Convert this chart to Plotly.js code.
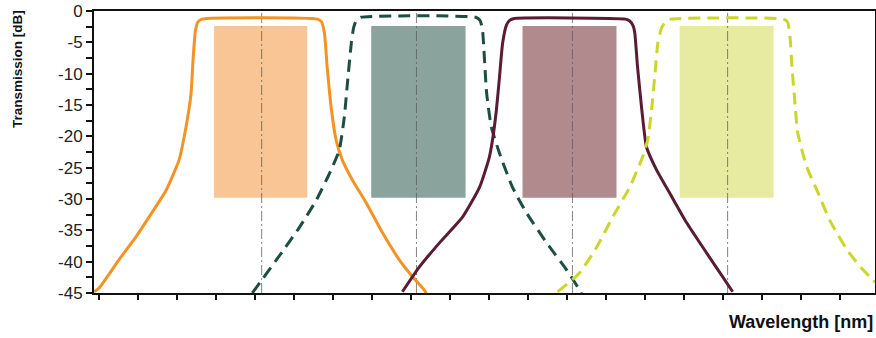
<!DOCTYPE html>
<html>
<head>
<meta charset="utf-8">
<script src="https://cdn.plot.ly/plotly-3.0.1.min.js"></script>
<style>html,body{margin:0;padding:0;background:#fff;}#chart{width:876px;height:338px;}</style>
</head>
<body>
<div id="chart"></div>
<script>
// Wavelength axis in tick units (ticks carry no labels in the source)
const xTicks = [0,1,2,3,4,5,6,7,8,9,10,11,12,13,14,15,16,17,18,19];
const yTicks = [0,-5,-10,-15,-20,-25,-30,-35,-40,-45];

// Channel 1 (orange, solid)
const ch1X = [-0.13,0,0.51,0.95,1.28,1.72,2.05,2.23,2.36,2.41,2.47,2.53,2.64,5.60,5.70,5.78,5.85,5.96,6.08,6.24,6.50,6.85,7.27,7.70,8.04,8.34,8.40];
const ch1Y = [-44.8,-44.2,-39.7,-36.0,-32.9,-28.6,-23.8,-18.5,-13.1,-7.8,-3.2,-1.8,-1.3,-1.3,-1.7,-3.5,-8.9,-15.8,-20.6,-23.8,-27,-30.6,-35.4,-39.7,-42.4,-44.5,-45.2];
// Channel 2 (dark green, dashed)
const ch2X = [3.93,4.70,5.13,5.57,5.91,6.16,6.29,6.37,6.47,6.53,6.60,6.72,9.66,9.77,9.83,9.87,9.94,10.06,10.27,10.60,10.96,11.48,11.99,12.32,12.38];
const ch2Y = [-45,-38.4,-34.6,-30.2,-25.9,-22.2,-16.9,-11.5,-5.1,-2.6,-1.5,-1.0,-1.0,-1.5,-2.8,-6.2,-13.1,-18.5,-22.7,-28.1,-32.2,-37,-41.3,-44.5,-45.3];
// Channel 3 (maroon, solid)
const ch3X = [7.78,8.22,8.73,9.32,9.76,10.01,10.09,10.19,10.27,10.35,10.45,10.53,10.65,13.50,13.61,13.70,13.74,13.81,13.92,14.04,14.30,14.63,15.07,15.58,15.99,16.25];
const ch3Y = [-44.8,-40.8,-37,-32.9,-28.1,-23.3,-20.6,-15.8,-10.5,-5.1,-2.2,-1.5,-1.2,-1.3,-1.6,-2.4,-3.5,-8.9,-15.8,-21.7,-25.4,-29,-33.8,-38.6,-42.4,-44.8];
// Channel 4 (yellow-green, dashed)
const ch4X = [11.76,12.32,12.76,13.17,13.61,13.94,14.07,14.17,14.25,14.33,14.42,14.52,14.66,17.55,17.66,17.72,17.77,17.84,17.92,18.15,18.41,18.74,19.18,19.59,19.85,19.90];
const ch4Y = [-44.8,-41.8,-37.7,-32.9,-28.1,-23.3,-20.6,-15.8,-10.5,-5.1,-2.8,-1.7,-1.3,-1.3,-1.8,-4.1,-8.9,-14.2,-19.5,-24.9,-28.6,-33.4,-38.1,-41.3,-42.9,-43.3];

// Pass-band boxes and channel centres
const bandStart = [2.95,6.98,10.86,14.89];
const bandEnd   = [5.34,9.40,13.27,17.30];
const bandTop = -2.4;
const bandBottom = -29.8;
const centers = [4.17,8.14,12.14,16.12];

const lineColors = ['#F39325','#1D4E43','#5B1B35','#CBD62B'];
const boxColors  = ['#F9C594','#8AA39D','#B08A8C','#E7EBA2'];

const series = [[ch1X,ch1Y,'solid'],[ch2X,ch2Y,'12px,7px'],[ch3X,ch3Y,'solid'],[ch4X,ch4Y,'12px,7px']];
const traces = series.map((s,i)=>({
  x:s[0], y:s[1], type:'scatter', mode:'lines',
  line:{color:lineColors[i], width:3, dash:s[2], shape:'spline', smoothing:0.5},
  hoverinfo:'skip', showlegend:false
}));

const shapes = [];
bandStart.forEach((b,i)=>{
  shapes.push({type:'rect', xref:'x', yref:'y', x0:b, x1:bandEnd[i], y0:bandBottom, y1:bandTop,
    fillcolor:boxColors[i], line:{width:0}, layer:'below'});
});
centers.forEach(c=>{
  shapes.push({type:'line', xref:'x', yref:'y', x0:c, x1:c, y0:-45, y1:0,
    line:{color:'rgba(90,90,90,0.75)', width:1, dash:'10px,3px,2px,3px'}, layer:'below'});
});

const layout = {
  width:876, height:338,
  margin:{l:94, r:1, t:11, b:45, pad:0},
  paper_bgcolor:'#fff', plot_bgcolor:'#fff',
  showlegend:false,
  xaxis:{range:[-0.13,19.9], tickvals:xTicks, showticklabels:false, ticks:'outside', ticklen:5, tickwidth:2, tickcolor:'#111',
    showline:true, linecolor:'#111', linewidth:2, mirror:true, showgrid:false, zeroline:false, fixedrange:true},
  yaxis:{range:[-45,0], tickvals:yTicks, ticktext:yTicks.map(String), ticks:'outside', ticklen:6, tickwidth:2, tickcolor:'#111',
    minor:{dtick:2.5, ticks:'outside', ticklen:6, tickwidth:2, tickcolor:'#111', showgrid:false},
    showline:true, linecolor:'#111', linewidth:2, mirror:true, showgrid:false, zeroline:false,
    tickfont:{family:'Liberation Sans, Arial, sans-serif', size:17, color:'#222'}, fixedrange:true},
  shapes:shapes,
  annotations:[
    {text:'Transmission [dB]', textangle:-90, xref:'paper', yref:'paper', x:-0.097, y:0.795, xanchor:'center', yanchor:'middle', showarrow:false,
     font:{family:'Liberation Sans, Arial, sans-serif', size:13.5, weight:'bold', color:'#111'}},
    {text:'Wavelength [nm]', xref:'paper', yref:'paper', x:1, y:-0.103, xanchor:'right', yanchor:'middle', showarrow:false,
     font:{family:'Liberation Sans, Arial, sans-serif', size:18, weight:'bold', color:'#111'}}
  ]
};

Plotly.newPlot('chart', traces, layout, {staticPlot:true, displayModeBar:false});
</script>
</body>
</html>
